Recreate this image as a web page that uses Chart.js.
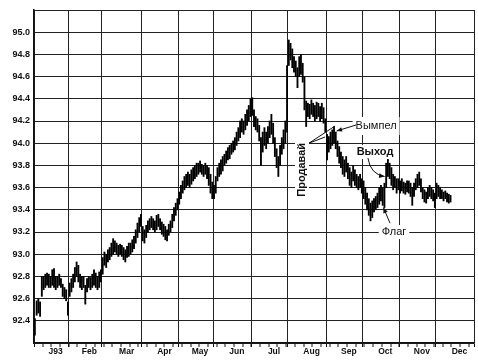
<!DOCTYPE html>
<html>
<head>
<meta charset="utf-8">
<script src="https://cdn.jsdelivr.net/npm/chart.js@4.4.0/dist/chart.umd.min.js"></script>
<style>
    html, body { margin: 0; padding: 0; background: #fff; }
</style>
</head>
<body>
<canvas id="chart" width="478" height="362"></canvas>
<script>
// month names on the time axis and trading days in each month (1993)
var monthLabels = ["J93", "Feb", "Mar", "Apr", "May", "Jun", "Jul", "Aug", "Sep", "Oct", "Nov", "Dec"];
var tradingDays = [20, 19, 23, 21, 20, 22, 21, 22, 21, 21, 21, 22];
var yLabels = ["92.4", "92.6", "92.8", "93.0", "93.2", "93.4", "93.6", "93.8", "94.0", "94.2", "94.4", "94.6", "94.8", "95.0"];

// daily bars, [low, high]
var jan = [[92.27, 92.42], [92.45, 92.58], [92.47, 92.60], [92.44, 92.57], [92.62, 92.80],
    [92.68, 92.80], [92.70, 92.82], [92.72, 92.83], [92.70, 92.82], [92.70, 92.80],
    [92.72, 92.86], [92.70, 92.87], [92.68, 92.80], [92.70, 92.80], [92.72, 92.82],
    [92.70, 92.78], [92.62, 92.73], [92.60, 92.70], [92.58, 92.68], [92.45, 92.57]];
var feb = [[92.62, 92.74], [92.66, 92.78], [92.70, 92.82], [92.75, 92.88], [92.80, 92.93],
    [92.75, 92.90], [92.70, 92.82], [92.68, 92.80], [92.70, 92.80], [92.55, 92.72],
    [92.66, 92.78], [92.70, 92.80], [92.68, 92.79], [92.70, 92.82], [92.72, 92.86],
    [92.70, 92.83], [92.68, 92.80], [92.70, 92.84], [92.75, 92.86]];
var mar = [[92.82, 92.97], [92.90, 93.02], [92.88, 93.00], [92.93, 93.04], [92.95, 93.06],
    [92.98, 93.10], [93.00, 93.14], [93.02, 93.12], [93.00, 93.10], [92.98, 93.08],
    [93.00, 93.09], [92.98, 93.08], [92.95, 93.06], [92.93, 93.04], [92.97, 93.07],
    [92.98, 93.10], [93.00, 93.10], [93.02, 93.13], [93.05, 93.16], [93.10, 93.22],
    [93.15, 93.28], [93.20, 93.33], [93.25, 93.36]];
var apr = [[93.12, 93.25], [93.10, 93.22], [93.15, 93.26], [93.20, 93.30], [93.22, 93.32],
    [93.24, 93.34], [93.22, 93.32], [93.20, 93.30], [93.22, 93.35], [93.25, 93.36],
    [93.22, 93.32], [93.18, 93.29], [93.16, 93.27], [93.13, 93.25], [93.12, 93.22],
    [93.17, 93.27], [93.20, 93.30], [93.24, 93.36], [93.30, 93.42], [93.35, 93.46],
    [93.40, 93.50]];
var may = [[93.45, 93.56], [93.50, 93.62], [93.55, 93.66], [93.58, 93.70], [93.60, 93.72],
    [93.62, 93.74], [93.60, 93.72], [93.63, 93.76], [93.66, 93.78], [93.68, 93.80],
    [93.70, 93.82], [93.72, 93.82], [93.74, 93.84], [93.72, 93.81], [93.70, 93.80],
    [93.72, 93.82], [93.68, 93.80], [93.62, 93.78], [93.55, 93.72], [93.50, 93.65]];
var jun = [[93.50, 93.62], [93.55, 93.70], [93.66, 93.78], [93.70, 93.82], [93.72, 93.85],
    [93.75, 93.88], [93.80, 93.90], [93.82, 93.93], [93.85, 93.96], [93.86, 93.98],
    [93.90, 94.00], [93.92, 94.02], [93.94, 94.05], [93.98, 94.10], [94.02, 94.14],
    [94.05, 94.20], [94.10, 94.22], [94.08, 94.20], [94.12, 94.26], [94.16, 94.30],
    [94.20, 94.34], [94.24, 94.40]];
var jul = [[94.25, 94.41], [94.15, 94.30], [94.12, 94.24], [94.10, 94.22], [94.02, 94.16],
    [93.80, 94.05], [93.92, 94.10], [93.98, 94.14], [93.95, 94.10], [94.00, 94.15],
    [94.05, 94.20], [94.08, 94.26], [94.00, 94.18], [93.88, 94.05], [93.78, 93.95],
    [93.70, 93.88], [93.80, 93.98], [93.90, 94.05], [93.95, 94.12], [94.00, 94.20],
    [94.10, 94.70]];
var aug = [[94.70, 94.93], [94.75, 94.90], [94.68, 94.85], [94.64, 94.78], [94.60, 94.74],
    [94.50, 94.68], [94.60, 94.78], [94.62, 94.80], [94.55, 94.72], [94.30, 94.60],
    [94.15, 94.38], [94.24, 94.36], [94.22, 94.35], [94.26, 94.39], [94.24, 94.36],
    [94.20, 94.34], [94.22, 94.37], [94.24, 94.36], [94.20, 94.33], [94.22, 94.36],
    [94.18, 94.32], [94.10, 94.22]];
var sep = [[93.85, 94.08], [93.92, 94.06], [93.95, 94.10], [93.98, 94.12], [94.00, 94.15],
    [93.95, 94.10], [93.88, 94.02], [93.82, 93.97], [93.78, 93.92], [93.72, 93.88],
    [93.70, 93.85], [93.74, 93.88], [93.68, 93.82], [93.62, 93.78], [93.60, 93.74],
    [93.66, 93.80], [93.62, 93.76], [93.60, 93.72], [93.58, 93.70], [93.60, 93.72],
    [93.55, 93.68]];
var oct = [[93.50, 93.66], [93.45, 93.60], [93.40, 93.55], [93.35, 93.50], [93.30, 93.46],
    [93.33, 93.48], [93.38, 93.50], [93.40, 93.52], [93.42, 93.55], [93.45, 93.60],
    [93.48, 93.62], [93.44, 93.60], [93.42, 93.64], [93.60, 93.82], [93.70, 93.86],
    [93.68, 93.82], [93.62, 93.78], [93.58, 93.72], [93.60, 93.70], [93.55, 93.68],
    [93.58, 93.68]];
var nov = [[93.55, 93.66], [93.57, 93.68], [93.55, 93.65], [93.54, 93.64], [93.56, 93.66],
    [93.55, 93.66], [93.52, 93.64], [93.44, 93.60], [93.52, 93.64], [93.58, 93.68],
    [93.60, 93.72], [93.62, 93.74], [93.56, 93.68], [93.50, 93.60], [93.47, 93.58],
    [93.46, 93.56], [93.50, 93.60], [93.52, 93.62], [93.50, 93.60], [93.48, 93.58],
    [93.42, 93.55]];
var dec = [[93.50, 93.64], [93.52, 93.62], [93.50, 93.60], [93.50, 93.58], [93.48, 93.56],
    [93.50, 93.57], [93.47, 93.55], [93.46, 93.54], [93.47, 93.53]];

var months = [jan, feb, mar, apr, may, jun, jul, aug, sep, oct, nov, dec];

// first trading day of every month on the day axis
var monthStart = [0];
tradingDays.forEach(function (n, i) {
    monthStart.push(monthStart[i] + n);
});
var lastDay = monthStart[monthStart.length - 1];

var bars = [];
months.forEach(function (m, mi) {
    m.forEach(function (p, k) {
        bars.push({ x: monthStart[mi] + k + 0.5, y: p });
    });
});

function buildXTicks(scale) {
    var t = [];
    monthStart.forEach(function (d) {
        t.push({ value: d, kind: "month" });
    });
    for (var w = 5; w < lastDay; w += 5) {
        t.push({ value: w, kind: "week" });
    }
    monthLabels.forEach(function (lab, i) {
        t.push({ value: monthStart[i] + tradingDays[i] * 0.62, kind: "label", text: lab });
    });
    t.sort(function (a, b) { return a.value - b.value; });
    scale.ticks = t;
}

function buildYTicks(scale) {
    var t = [];
    for (var i = 0; i <= 15; i++) {
        t.push({ value: 92.2 + i * 0.2 });
    }
    scale.ticks = t;
}

function kindOf(ctx) {
    return ctx.tick ? ctx.tick.kind : "";
}

var font = "'Liberation Sans', Arial, sans-serif";

// text notes and arrows, placed in data coordinates
var notes = {
    id: "notes",
    afterDatasetsDraw: function (chart) {
        var ctx = chart.ctx;
        var xs = chart.scales.x;
        var ys = chart.scales.y;
        function px(d) { return xs.getPixelForValue(d); }
        function py(v) { return ys.getPixelForValue(v); }

        function label(text, d, v, bold, padX, padY) {
            ctx.font = (bold ? "bold " : "") + "11px " + font;
            var w = ctx.measureText(text).width;
            var x = px(d), y = py(v);
            ctx.fillStyle = "#fff";
            ctx.fillRect(x - w / 2 - padX, y - 6 - padY, w + padX * 2, 12 + padY * 2);
            ctx.fillStyle = "#111";
            ctx.textAlign = "center";
            ctx.textBaseline = "middle";
            ctx.fillText(text, x, y);
        }

        function head(x1, y1, x2, y2) {
            var a = Math.atan2(y2 - y1, x2 - x1);
            ctx.beginPath();
            ctx.moveTo(x2, y2);
            ctx.lineTo(x2 - 6 * Math.cos(a - 0.4), y2 - 6 * Math.sin(a - 0.4));
            ctx.lineTo(x2 - 6 * Math.cos(a + 0.4), y2 - 6 * Math.sin(a + 0.4));
            ctx.closePath();
            ctx.fill();
        }

        function line(d1, v1, d2, v2, arrow) {
            var x1 = px(d1), y1 = py(v1), x2 = px(d2), y2 = py(v2);
            ctx.beginPath();
            ctx.moveTo(x1, y1);
            ctx.lineTo(x2, y2);
            ctx.stroke();
            if (arrow) head(x1, y1, x2, y2);
        }

        ctx.save();
        ctx.strokeStyle = "#111";
        ctx.fillStyle = "#111";
        ctx.lineWidth = 1;

        label("Вымпел", 196.7, 94.155, false, 3, 3);
        label("Выход", 196.1, 93.92, true, 2, 1);
        label("Флаг", 207, 93.2, false, 3, 1);

        ctx.strokeStyle = "#111";
        ctx.fillStyle = "#111";
        line(185.2, 94.164, 174.0, 94.11, true);
        line(204.7, 93.28, 200.9, 93.42, true);
        line(158.1, 94.0, 173.1, 94.155, false);
        line(158.1, 94.0, 167.4, 94.056, false);

        // curved arrow from "Выход" to the breakout bar
        var sx = px(192), sy = py(93.867);
        var cx = px(193.4), cy = py(93.72);
        var ex = px(201.6), ey = py(93.70);
        ctx.beginPath();
        ctx.moveTo(sx, sy);
        ctx.quadraticCurveTo(cx, cy, ex, ey);
        ctx.stroke();
        head(cx, cy, ex, ey);

        // rotated "Продавай"
        ctx.translate(px(154.1), py(93.76));
        ctx.rotate(-Math.PI / 2);
        ctx.font = "bold 11px " + font;
        var w = ctx.measureText("Продавай").width;
        ctx.fillStyle = "#fff";
        ctx.fillRect(-w / 2 - 2, -7, w + 4, 14);
        ctx.fillStyle = "#111";
        ctx.textAlign = "center";
        ctx.textBaseline = "middle";
        ctx.fillText("Продавай", 0, 0);
        ctx.restore();
    }
};

new Chart(document.getElementById("chart"), {
    type: "bar",
    data: {
        datasets: [
            {
                data: bars,
                backgroundColor: "#000",
                borderWidth: 0,
                barThickness: 1.2
            }
        ]
    },
    options: {
        responsive: false,
        animation: false,
        layout: { padding: { left: 0, right: 4, top: 10, bottom: 0 } },
        plugins: {
            legend: { display: false },
            tooltip: { enabled: false }
        },
        scales: {
            x: {
                type: "linear",
                min: 0,
                max: lastDay,
                offset: false,
                afterBuildTicks: buildXTicks,
                afterFit: function (scale) { scale.height = 19; },
                border: { display: true, color: "#111", width: 1.5 },
                grid: {
                    offset: false,
                    color: "#222",
                    lineWidth: function (ctx) { return kindOf(ctx) === "month" ? 1 : 0; },
                    tickColor: function (ctx) { return kindOf(ctx) === "label" ? "rgba(0,0,0,0)" : "#111"; },
                    tickWidth: function (ctx) { return kindOf(ctx) === "label" ? 0 : 1; },
                    tickLength: 4
                },
                ticks: {
                    autoSkip: false,
                    maxRotation: 0,
                    padding: 0,
                    color: "#111",
                    font: { family: font, size: 8.5, weight: "bold" },
                    callback: function (value, index, ticks) {
                        return ticks[index].text || "";
                    }
                }
            },
            y: {
                min: 92.2,
                max: 95.2,
                beginAtZero: false,
                afterBuildTicks: buildYTicks,
                afterFit: function (scale) { scale.width = 34; },
                border: { display: true, color: "#111", width: 1.5 },
                grid: {
                    color: "#222",
                    lineWidth: 1,
                    drawTicks: false
                },
                ticks: {
                    padding: 4,
                    color: "#111",
                    font: { family: font, size: 9, weight: "bold" },
                    callback: function (value) {
                        var s = Number(value).toFixed(1);
                        return yLabels.indexOf(s) >= 0 ? s : "";
                    }
                }
            }
        }
    },
    plugins: [notes]
});
</script>
</body>
</html>
